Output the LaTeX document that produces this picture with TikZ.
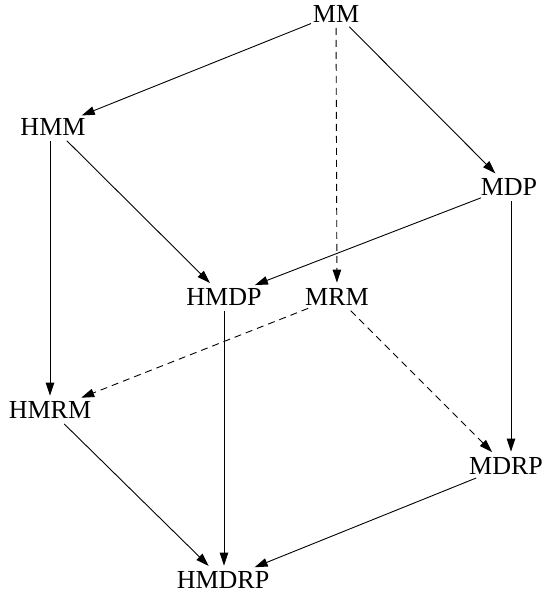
\documentclass[tikz,border=0pt]{standalone}
\usepackage{fontspec}
\setmainfont{Liberation Serif}
\usetikzlibrary{shapes.geometric,arrows.meta}
\begin{document}
\begin{tikzpicture}[x=1pt,y=-1pt,
  lattice/.style={ellipse,draw=none,inner sep=1.5pt,font=\fontsize{26}{30}\selectfont},
  edge/.style={-{Triangle[length=13pt,width=8.5pt]},line width=0.9pt},
  hidden/.style={edge,dash pattern=on 7pt off 5pt}]
\useasboundingbox (0,0) rectangle (544,596);
\node[lattice] (MM)    at (336,13.5) {MM};
\node[lattice] (HMM)   at (53,127)   {HMM};
\node[lattice] (MDP)   at (509,187)  {MDP};
\node[lattice] (HMDP)  at (224,297)  {HMDP};
\node[lattice] (MRM)   at (337,297)  {MRM};
\node[lattice] (HMRM)  at (50,410)   {HMRM};
\node[lattice] (MDRP)  at (506,466)  {MDRP};
\node[lattice] (HMDRP) at (223,580)  {HMDRP};
\draw[edge] (MM) -- (HMM);
\draw[edge] (MM) -- (MDP);
\draw[hidden] (MM) -- (MRM);
\draw[edge] (HMM) -- (HMDP);
\draw[edge] (HMM.south) ++(-3,0) coordinate (hmmS) -- (hmmS |- HMRM.north);
\draw[edge] (MDP.south) ++(2,0) coordinate (mdpS) -- (mdpS |- MDRP.north);
\draw[edge] (MDP) -- (HMDP);
\draw[hidden] (MRM) -- (HMRM);
\draw[hidden] (MRM) -- (MDRP);
\draw[edge] (HMDP.south) -- (HMDP.south |- HMDRP.north);
\draw[edge] (HMRM) -- (HMDRP);
\draw[edge] (MDRP) -- (HMDRP);
\end{tikzpicture}
\end{document}
